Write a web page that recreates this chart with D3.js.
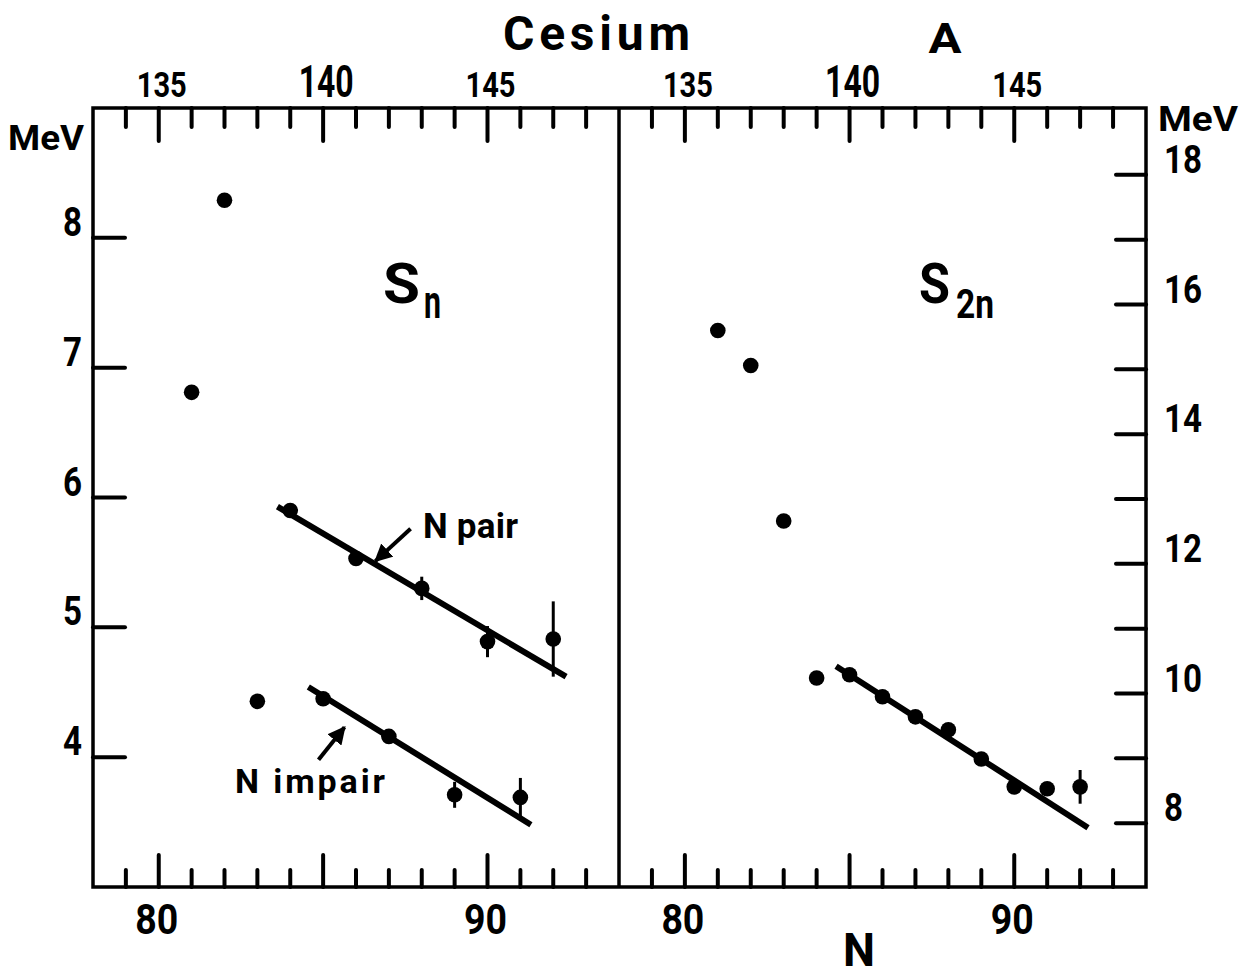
<!DOCTYPE html>
<html>
<head>
<meta charset="utf-8">
<script src="https://cdn.jsdelivr.net/npm/d3@7/dist/d3.min.js"></script>
<style>
  html, body { margin: 0; padding: 0; background: #fff; }
  svg { display: block; }
  text { font-family: Roboto, 'Liberation Sans', 'DejaVu Sans', sans-serif; font-weight: 700; fill: #000; }
</style>
</head>
<body>
<svg id="chart" width="1246" height="978"></svg>
<script>
// ---------------- data ----------------
const Z = 55;                                  // cesium, A = N + Z
const nTicks = d3.range(79, 94);               // minor ticks on N / A axes
const nMajor = [80, 85, 90];
const nLabels = [80, 90];
const aLabels = [135, 140, 145];

const snLeftTicks = [4, 5, 6, 7, 8];
const s2nRightTicks = d3.range(8, 19);
const s2nRightLabels = [8, 10, 12, 14, 16, 18];

// Sn (left panel)
const snN   = [81, 82, 83, 84, 85, 86, 87, 88, 89, 90, 91, 92];
const snVal = [6.81, 8.29, 4.43, 5.90, 4.45, 5.53, 4.16, 5.30, 3.71, 4.89, 3.69, 4.91];
const snErr = [0, 0, 0, 0, 0, 0, 0, 0.09, 0.10, 0.12, 0.15, 0.29];

// S2n (right panel)
const s2nN   = [81, 82, 83, 84, 85, 86, 87, 88, 89, 90, 91, 92];
const s2nVal = [15.60, 15.06, 12.66, 10.24, 10.29, 9.95, 9.64, 9.44, 8.99, 8.56, 8.53, 8.56];
const s2nErr = [0, 0, 0, 0, 0, 0, 0, 0, 0, 0, 0, 0.26];

// fitted lines
const fitPairN = [83.61, 92.39],  fitPairS = [5.93, 4.62];
const fitImpN  = [84.55, 91.32],  fitImpS  = [4.54, 3.48];
const fitS2nN  = [84.59, 92.24],  fitS2nS  = [10.42, 7.93];

// annotation arrows [tailN, tailS, headN, headS]
const arrowPair = [87.66, 5.76, 86.59, 5.51];
const arrowImp  = [84.86, 3.98, 85.65, 4.23];

// ---------------- layout ----------------
const X0 = 93, XM = 619, X1 = 1146, Y0 = 108, Y1 = 887;
const svg = d3.select('#chart');
svg.append('rect').attr('width', 1246).attr('height', 978).attr('fill', '#fff');

const xL = d3.scaleLinear().domain([78, 94]).range([X0, XM]);
const xR = d3.scaleLinear().domain([78, 94]).range([XM, X1]);
const yL = d3.scaleLinear().domain([3, 9]).range([Y1, Y0]);
const yR = d3.scaleLinear().domain([7, 19]).range([Y1 + 1, Y0 + 2]);

const g = svg.append('g');

// helper: condensed text via textLength
function txt(x, y, s, size, width, anchor, adjust) {
  return g.append('text').attr('x', x).attr('y', y).attr('font-size', size)
    .attr('text-anchor', anchor || 'start')
    .attr('textLength', width).attr('lengthAdjust', adjust || 'spacingAndGlyphs')
    .text(s);
}

// frame
g.append('rect').attr('x', X0).attr('y', Y0).attr('width', X1 - X0).attr('height', Y1 - Y0)
  .attr('fill', 'none').attr('stroke', '#000').attr('stroke-width', 3.5);
g.append('line').attr('x1', XM).attr('x2', XM).attr('y1', Y0).attr('y2', Y1)
  .attr('stroke', '#000').attr('stroke-width', 3.5);

const tickStyle = sel => sel.attr('stroke', '#000').attr('stroke-width', 4).attr('stroke-linecap', 'round');

// top and bottom ticks for both panels
[xL, xR].forEach(x => {
  g.append('g').selectAll('line').data(nTicks).join('line')
    .attr('x1', d => x(d)).attr('x2', d => x(d))
    .attr('y1', Y0).attr('y2', d => Y0 + (nMajor.includes(d) ? 33 : 19))
    .call(tickStyle);
  g.append('g').selectAll('line').data(nTicks).join('line')
    .attr('x1', d => x(d)).attr('x2', d => x(d))
    .attr('y1', Y1).attr('y2', d => Y1 - (nMajor.includes(d) ? 32 : 17))
    .call(tickStyle);
  aLabels.forEach(a => {
    const big = a === 140;
    txt(x(a - Z) + 3, 97, String(a), big ? 45 : 35, big ? 55 : 50, 'middle');
  });
  nLabels.forEach(n => txt(x(n) - 2, 934, String(n), 43, 43, 'middle'));
});

// left y axis
g.append('g').selectAll('line').data(snLeftTicks).join('line')
  .attr('x1', X0).attr('x2', X0 + 32).attr('y1', d => yL(d)).attr('y2', d => yL(d)).call(tickStyle);
snLeftTicks.forEach(v => txt(82, yL(v) - 2, String(v), 41, 19, 'end'));
txt(8, 150, 'MeV', 35, 76);

// right y axis
g.append('g').selectAll('line').data(s2nRightTicks).join('line')
  .attr('x1', X1).attr('x2', X1 - 30).attr('y1', d => yR(d)).attr('y2', d => yR(d)).call(tickStyle);
s2nRightLabels.forEach(v => txt(1164, yR(v) - 2, String(v), 39, v >= 10 ? 38 : 19, 'start'));
txt(1158, 131, 'MeV', 35, 80);

// titles
txt(503, 50, 'Cesium', 48, 187, 'start', 'spacing');
txt(945, 53, 'A', 43, 33, 'middle');
txt(859, 966, 'N', 47, 32, 'middle');

// panel labels
txt(383, 303, 'S', 55, 37);
txt(424, 318, 'n', 46, 17);
txt(919, 303, 'S', 55, 31);
txt(956, 318, '2n', 40, 38);

// fit lines
const lineStyle = sel => sel.attr('stroke', '#000').attr('stroke-width', 6).attr('stroke-linecap', 'butt');
g.append('line').attr('x1', xL(fitPairN[0])).attr('y1', yL(fitPairS[0]))
  .attr('x2', xL(fitPairN[1])).attr('y2', yL(fitPairS[1])).call(lineStyle);
g.append('line').attr('x1', xL(fitImpN[0])).attr('y1', yL(fitImpS[0]))
  .attr('x2', xL(fitImpN[1])).attr('y2', yL(fitImpS[1])).call(lineStyle);
g.append('line').attr('x1', xR(fitS2nN[0])).attr('y1', yR(fitS2nS[0]))
  .attr('x2', xR(fitS2nN[1])).attr('y2', yR(fitS2nS[1])).call(lineStyle);

// error bars + points
function drawPoints(xs, ys, errs, xScale, yScale) {
  const data = xs.map((n, i) => ({ n, v: ys[i], e: errs[i] }));
  g.append('g').selectAll('line').data(data.filter(d => d.e > 0)).join('line')
    .attr('x1', d => xScale(d.n)).attr('x2', d => xScale(d.n))
    .attr('y1', d => yScale(d.v - d.e)).attr('y2', d => yScale(d.v + d.e))
    .attr('stroke', '#000').attr('stroke-width', 3);
  g.append('g').selectAll('circle').data(data).join('circle')
    .attr('cx', d => xScale(d.n)).attr('cy', d => yScale(d.v)).attr('r', 7.8).attr('fill', '#000');
}
drawPoints(snN, snVal, snErr, xL, yL);
drawPoints(s2nN, s2nVal, s2nErr, xR, yR);

// annotations
const defs = svg.append('defs');
defs.append('marker').attr('id', 'ah').attr('viewBox', '0 0 10 10').attr('refX', 9).attr('refY', 5)
  .attr('markerWidth', 4.5).attr('markerHeight', 4.5).attr('orient', 'auto').attr('markerUnits', 'strokeWidth')
  .append('path').attr('d', 'M0,0 L10,5 L0,10 Z').attr('fill', '#000');

function arrow(a) {
  g.append('line').attr('x1', xL(a[0])).attr('y1', yL(a[1])).attr('x2', xL(a[2])).attr('y2', yL(a[3]))
    .attr('stroke', '#000').attr('stroke-width', 4).attr('marker-end', 'url(#ah)');
}
arrow(arrowPair);
arrow(arrowImp);

txt(423, 538, 'N pair', 35, 95, 'start', 'spacing');
txt(235, 793, 'N impair', 34, 150, 'start', 'spacing');
</script>
</body>
</html>
